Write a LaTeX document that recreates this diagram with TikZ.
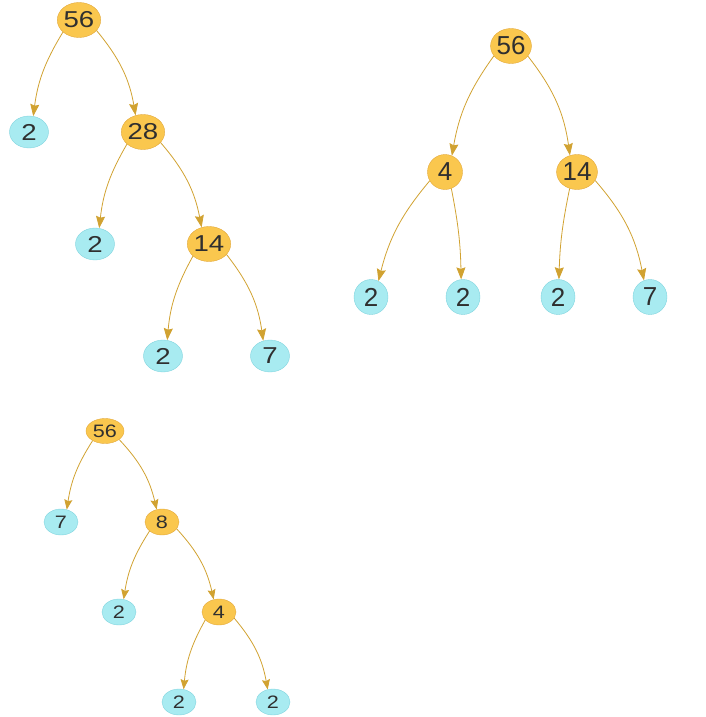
\documentclass[tikz,border=0pt]{standalone}
\usepackage{fontspec}
\setmainfont{Liberation Sans}
\newfontfamily\widefont[FakeStretch=1.2]{Liberation Sans}
\usetikzlibrary{shapes.geometric,
                arrows.meta}

\definecolor{compfill}{HTML}{FAC74E}
\definecolor{compedge}{HTML}{E3A93B}
\definecolor{primefill}{HTML}{A8EBF1}
\definecolor{primeedge}{HTML}{80D4DE}
\definecolor{gold}{HTML}{D1A231}
\definecolor{digit}{HTML}{2F2F2F}

\begin{document}
\begin{tikzpicture}[x=1pt, y=1pt,
                    Composite/.style={ellipse, draw=compedge, fill=compfill, inner sep=0pt, text=digit},
                    Prime/.style={ellipse, draw=primeedge, fill=primefill, inner sep=0pt, text=digit},
                    branch/.style={-{Stealth[length=12pt, width=9pt, inset=1.5pt]}, gold, line width=0.8pt}
                    ]
    \useasboundingbox (0,0) rectangle (705,-717);

    % TREE ONE %
    \begin{scope}[Composite/.append style={minimum width=41pt, minimum height=35pt},
                  Prime/.append style={minimum width=39pt, minimum height=32pt},
                  font=\widefont\fontsize{23}{23}\selectfont]
    \node[Composite] (A0) at (79,-20) {56};
    \node[Prime] (A1) at (29,-132) {2};
    \node[Composite] (A2) at (143,-132) {28};
    \node[Prime] (A3) at (95,-244) {2};
    \node[Composite] (A4) at (209,-244) {14};
    \node[Prime] (A5) at (163,-356) {2};
    \node[Prime] (A6) at (270,-356) {7};
    \end{scope}

    \foreach \a/\s/\b/\e/\t in {A0/-143/A1/75/-12, A0/-31/A2/114/15, A2/-143/A3/75/-12,
                                A2/-31/A4/114/15, A4/-143/A5/75/-12, A4/-31/A6/114/15}
    \draw[branch] (\a.\s) to[bend left=\t] (\b.\e);

    % TREE TWO %
    \begin{scope}[Composite/.append style={minimum width=35pt, minimum height=35pt},
                  Prime/.append style={minimum width=34pt, minimum height=35pt},
                  font=\fontsize{26}{26}\selectfont]
    \node[Composite] (B0) at (511,-46) {56};
    \node[Composite] (B1) at (445,-172) {4};
    \node[Composite] (B2) at (577,-172) {14};
    \node[Prime] (B3) at (371,-297) {2};
    \node[Prime] (B4) at (463,-297) {2};
    \node[Prime] (B5) at (558,-297) {2};
    \node[Prime] (B6) at (650,-297) {7};
    \end{scope}

    \foreach \a/\s/\b/\e/\t in {B0/-150/B1/67/-13, B0/-31/B2/113/15, B1/-150/B3/65/-13,
                                B1/-69/B4/96/5, B2/-114/B5/87/-5, B2/-25/B6/110/15}
    \draw[branch] (\a.\s) to[bend left=\t] (\b.\e);

    % TREE THREE %
    \begin{scope}[Composite/.append style={minimum width=34pt, minimum height=26pt},
                  Prime/.append style={minimum width=34pt, minimum height=26pt},
                  font=\widefont\fontsize{18}{18}\selectfont]
    \node[Composite, minimum width=38pt, minimum height=25pt] (C0) at (105,-431) {56};
    \node[Prime] (C1) at (61,-522) {7};
    \node[Composite] (C2) at (162,-522) {8};
    \node[Prime] (C3) at (119,-612) {2};
    \node[Composite] (C4) at (219,-612) {4};
    \node[Prime] (C5) at (179,-702) {2};
    \node[Prime] (C6) at (273,-702) {2};
    \end{scope}

    \foreach \a/\s/\b/\e/\t in {C0/-142/C1/65/-12, C0/-31/C2/113/15, C2/-144/C3/70/-12,
                                C2/-25/C4/113/15, C4/-150/C5/70/-12, C4/-22/C6/113/15}
    \draw[branch, -{Stealth[length=10pt, width=8pt, inset=1.5pt]}] (\a.\s) to[bend left=\t] (\b.\e);

\end{tikzpicture}
\end{document}
